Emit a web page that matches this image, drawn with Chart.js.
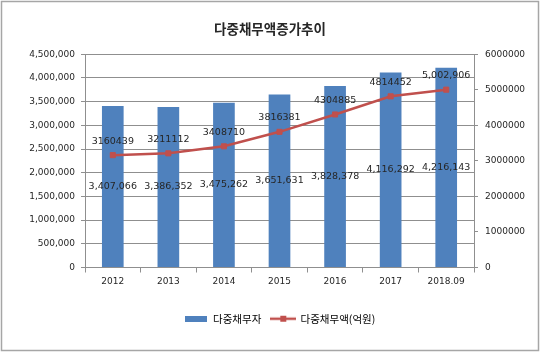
<!DOCTYPE html>
<html>
<head>
<meta charset="utf-8">
<script src="https://cdn.jsdelivr.net/npm/chart.js@4.4.1/dist/chart.umd.min.js"></script>
<style>
  body { margin: 0; background: #fff; }
</style>
</head>
<body>
<canvas id="debt-chart" width="540" height="352"></canvas>
<script>
// data
const years = ['2012', '2013', '2014', '2015', '2016', '2017', '2018.09'];
const debtorCount = [3407066, 3386352, 3475262, 3651631, 3828378, 4116292, 4216143];
const debtAmount = [3160439, 3211112, 3408710, 3816381, 4304885, 4814452, 5002906];
const leftTicks = [0, 500000, 1000000, 1500000, 2000000, 2500000, 3000000, 3500000, 4000000, 4500000];
const rightTicks = [0, 1000000, 2000000, 3000000, 4000000, 5000000, 6000000];

const barColor = '#4F81BD';
const lineColor = '#C0504D';
const gridColor = '#8f8f8f';
const numFont = "'DejaVu Sans', 'Noto Sans CJK KR', sans-serif";
const krFont = "'Noto Sans CJK KR', sans-serif";

// legend icons
const barIcon = document.createElement('canvas');
barIcon.width = 22; barIcon.height = 6;
let c = barIcon.getContext('2d');
c.fillStyle = barColor;
c.fillRect(0, 0, 22, 6);

const lineIcon = document.createElement('canvas');
lineIcon.width = 26; lineIcon.height = 8;
c = lineIcon.getContext('2d');
c.strokeStyle = lineColor;
c.lineWidth = 2.5;
c.beginPath(); c.moveTo(0, 4); c.lineTo(26, 4); c.stroke();
c.fillStyle = lineColor;
c.fillRect(10, 1, 6, 6);

// border + value labels
const frame = {
  id: 'frame',
  beforeDraw(chart) {
    const ctx = chart.ctx;
    ctx.save();
    ctx.fillStyle = '#fff';
    ctx.fillRect(0, 0, chart.width, chart.height);
    ctx.strokeStyle = '#a6a6a6';
    ctx.lineWidth = 1.5;
    ctx.strokeRect(1.5, 1.5, chart.width - 3, chart.height - 3);
    ctx.restore();
  }
};

const valueLabels = {
  id: 'valueLabels',
  afterDatasetsDraw(chart) {
    const ctx = chart.ctx;
    ctx.save();
    ctx.font = '9.5px ' + numFont;
    ctx.fillStyle = '#262626';
    ctx.textAlign = 'center';
    ctx.textBaseline = 'middle';
    chart.getDatasetMeta(0).data.forEach((bar, i) => {
      ctx.fillText(debtorCount[i].toLocaleString('en-US'), bar.x, (bar.y + bar.base) / 2);
    });
    chart.getDatasetMeta(1).data.forEach((pt, i) => {
      let txt = String(debtAmount[i]);
      if (i === debtAmount.length - 1) txt = debtAmount[i].toLocaleString('en-US');
      ctx.fillText(txt, pt.x, pt.y - 14);
    });
    ctx.restore();
  }
};

const debtCanvas = document.getElementById('debt-chart');

let debtChart = new Chart(debtCanvas, {
  type: 'bar',
  data: {
    labels: years,
    datasets: [{
      type: 'bar',
      label: '다중채무자',
      data: debtorCount,
      backgroundColor: barColor,
      barPercentage: 0.39,
      categoryPercentage: 1,
      yAxisID: 'y',
      order: 1
    }, {
      type: 'line',
      label: '다중채무액(억원)',
      data: debtAmount,
      borderColor: lineColor,
      borderWidth: 2.5,
      pointStyle: 'rect',
      pointRadius: 3.6,
      pointBackgroundColor: lineColor,
      pointBorderColor: lineColor,
      pointBorderWidth: 1,
      tension: 0,
      yAxisID: 'y1',
      order: 0
    }]
  },
  options: {
    responsive: false,
    animation: false,
    layout: { padding: { left: 0, right: 0, top: 0, bottom: 18 } },
    scales: {
      x: {
        grid: { drawOnChartArea: false, tickLength: 5, color: gridColor, offset: true },
        border: { color: gridColor },
        ticks: { font: { family: numFont, size: 9 }, color: '#262626', padding: 4 },
        afterFit: (scale) => { scale.height = 36; }
      },
      y: {
        position: 'left',
        min: 0,
        max: 4500000,
        afterBuildTicks: (scale) => { scale.ticks = leftTicks.map(v => ({ value: v })); },
        grid: { color: gridColor, tickLength: 4 },
        border: { color: gridColor },
        ticks: {
          font: { family: numFont, size: 9 }, color: '#262626', padding: 6,
          callback: (v) => v.toLocaleString('en-US')
        },
        afterFit: (scale) => { scale.width = 85; }
      },
      y1: {
        position: 'right',
        min: 0,
        max: 6000000,
        afterBuildTicks: (scale) => { scale.ticks = rightTicks.map(v => ({ value: v })); },
        grid: { drawOnChartArea: false, color: gridColor, tickLength: 4 },
        border: { color: gridColor },
        ticks: {
          font: { family: numFont, size: 9 }, color: '#262626', padding: 7,
          callback: (v) => String(v)
        },
        afterFit: (scale) => { scale.width = 66; }
      }
    },
    plugins: {
      title: {
        display: true,
        text: '다중채무액증가추이',
        font: { family: krFont, size: 13.5, weight: 'bold' },
        color: '#262626',
        padding: { top: 21, bottom: 17 }
      },
      legend: {
        position: 'bottom',
        fullSize: false,
        labels: {
          usePointStyle: true,
          pointStyleWidth: 24,
          padding: 10,
          font: { family: krFont, size: 10.5 },
          color: '#262626',
          generateLabels: () => [
            { text: '다중채무자', pointStyle: barIcon, datasetIndex: 0, fillStyle: barColor, strokeStyle: barColor, lineWidth: 0 },
            { text: '다중채무액(억원)', pointStyle: lineIcon, datasetIndex: 1, fillStyle: lineColor, strokeStyle: lineColor, lineWidth: 0 }
          ]
        }
      },
      tooltip: { enabled: false }
    }
  },
  plugins: [frame, valueLabels]
});
</script>
</body>
</html>
